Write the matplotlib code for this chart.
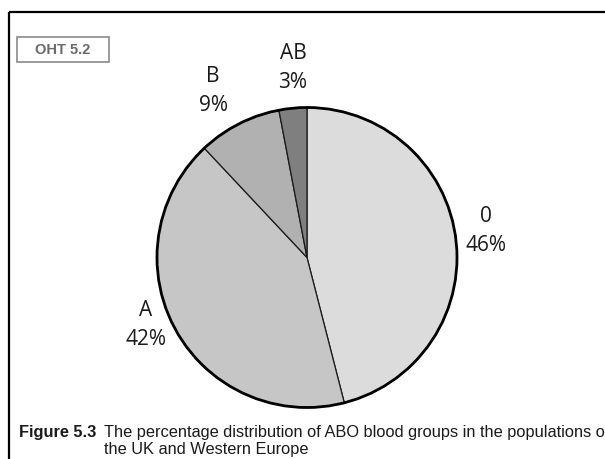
import matplotlib
matplotlib.use('Agg')
import matplotlib.pyplot as plt
from matplotlib.patches import Circle, Rectangle

# ── Data ──────────────────────────────────────────────────────
groups = ["0", "A", "B", "AB"]
percent = [46, 42, 9, 3]
slice_colors = ['#dcdcdc', '#c6c6c6', '#b1b1b1', '#7f7f7f']

W, H = 605, 459


def py(y):
    # image-style y (top = 0) -> axes y
    return H - y


fig = plt.figure(figsize=(W / 100, H / 100), dpi=100)
fig.patch.set_facecolor('white')
ax = fig.add_axes([0, 0, 1, 1])
ax.set_xlim(0, W)
ax.set_ylim(0, H)
ax.set_aspect('equal')
ax.axis('off')

# Pie
cx, cy, r = 307, py(257.5), 150
wedges, _ = ax.pie(percent, colors=slice_colors, startangle=90, counterclock=False,
                   center=(cx, cy), radius=r,
                   wedgeprops=dict(edgecolor='#1a1a1a', linewidth=0.9))
ax.add_patch(Circle((cx, cy), r, fill=False, edgecolor='black', linewidth=2.0, zorder=5))
ax.set_xlim(0, W)
ax.set_ylim(0, H)

# Slice labels
label_pos = {"0": (486, 231), "A": (146, 325), "B": (213, 91), "AB": (293, 68)}
for g, p in zip(groups, percent):
    x, y = label_pos[g]
    ax.text(x, py(y), f"{g}\n{p}%", ha='center', va='center', fontsize=15,
            family='Open Sans', color='#1a1a1a', linespacing=1.55)

# OHT box
ax.add_patch(Rectangle((17, py(62)), 92, 25, fill=False, edgecolor='#8a8a8a', linewidth=1.2))
ax.text(63, py(49.5), "OHT 5.2", ha='center', va='center', fontsize=10.5,
        fontweight='bold', family='Liberation Sans', color='#6a6a6a')

# Frame (top and left)
ax.plot([9, W], [py(12), py(12)], color='black', linewidth=1.6, solid_capstyle='butt')
ax.plot([9, 9], [py(12), 0], color='black', linewidth=1.6, solid_capstyle='butt')

# Caption
cap_size = 11.8
ax.text(19, py(437), "Figure 5.3", ha='left', va='baseline', fontsize=cap_size,
        fontweight='bold', family='Liberation Sans', color='#1a1a1a')
ax.text(104, py(437), "The percentage distribution of ABO blood groups in the populations of",
        ha='left', va='baseline', fontsize=cap_size, family='Liberation Sans', color='#1a1a1a')
ax.text(104, py(454), "the UK and Western Europe",
        ha='left', va='baseline', fontsize=cap_size, family='Liberation Sans', color='#1a1a1a')

fig.savefig("out.png", dpi=100, facecolor='white')
plt.close(fig)
